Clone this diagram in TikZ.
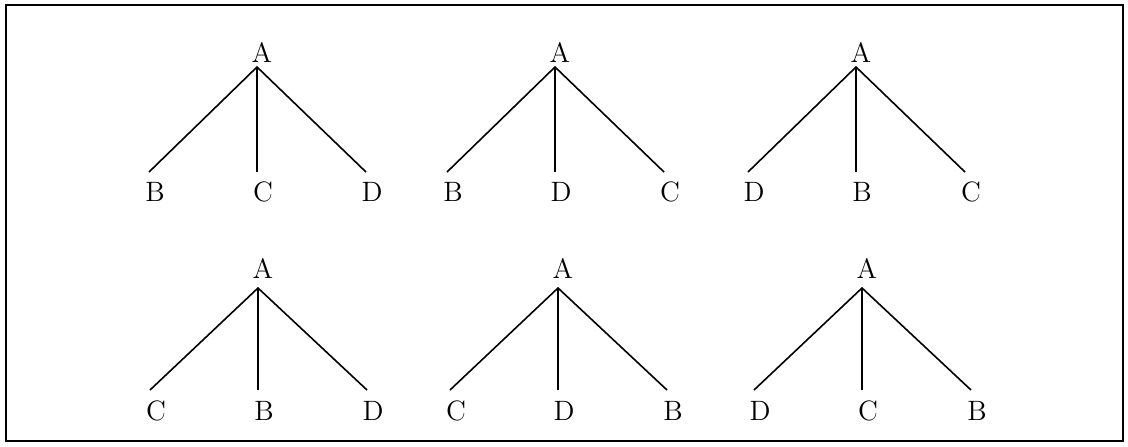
\documentclass[tikz,border=0pt]{standalone}
\begin{document}
\begin{tikzpicture}[x=0.5pt,y=-0.5pt,
  lbl/.style={inner sep=0pt,font=\fontsize{14}{16}\selectfont},
  edge/.style={line width=0.8pt},
  frame/.style={line width=1pt}]
\useasboundingbox (0,0) rectangle (1128,446);
\draw[frame] (6,5) rectangle (1123,441);
\newcommand\mytree[8]{%
  % #1 prefix, #2 apex x, #3 apex y, #4 leaf y, #5 top label y, #6 leaf label y, #7 #8 unused
  \coordinate (#1a) at (#2,#3);
  \coordinate (#1l) at (#2-108,#4);
  \coordinate (#1m) at (#2,#4);
  \coordinate (#1r) at (#2+109,#4);
  \draw[edge] (#1l) -- (#1a) -- (#1r);
  \draw[edge] (#1a) -- (#1m);
}
\mytree{t1}{257}{67}{172}{}{}{}{}
\mytree{t2}{555}{67}{172}{}{}{}{}
\mytree{t3}{856}{67}{172}{}{}{}{}
\mytree{b1}{258}{288}{390}{}{}{}{}
\mytree{b2}{558}{288}{390}{}{}{}{}
\mytree{b3}{862}{288}{390}{}{}{}{}
% labels: top row
\node[lbl] (t1A) at ([xshift=2.5pt,yshift=7.5pt]t1a) {A};
\node[lbl] (t1B) at ([xshift=3pt,yshift=-10pt]t1l) {B};
\node[lbl] (t1C) at ([xshift=3pt,yshift=-10pt]t1m) {C};
\node[lbl] (t1D) at ([xshift=3pt,yshift=-10pt]t1r) {D};
\node[lbl] (t2A) at ([xshift=2.5pt,yshift=7.5pt]t2a) {A};
\node[lbl] (t2B) at ([xshift=3pt,yshift=-10pt]t2l) {B};
\node[lbl] (t2D) at ([xshift=3pt,yshift=-10pt]t2m) {D};
\node[lbl] (t2C) at ([xshift=3pt,yshift=-10pt]t2r) {C};
\node[lbl] (t3A) at ([xshift=2.5pt,yshift=7.5pt]t3a) {A};
\node[lbl] (t3D) at ([xshift=3pt,yshift=-10pt]t3l) {D};
\node[lbl] (t3B) at ([xshift=3pt,yshift=-10pt]t3m) {B};
\node[lbl] (t3C) at ([xshift=3pt,yshift=-10pt]t3r) {C};
% labels: bottom row
\node[lbl] (b1A) at ([xshift=2.5pt,yshift=10pt]b1a) {A};
\node[lbl] (b1C) at ([xshift=3pt,yshift=-10.5pt]b1l) {C};
\node[lbl] (b1B) at ([xshift=3pt,yshift=-10.5pt]b1m) {B};
\node[lbl] (b1D) at ([xshift=3pt,yshift=-10.5pt]b1r) {D};
\node[lbl] (b2A) at ([xshift=2.5pt,yshift=10pt]b2a) {A};
\node[lbl] (b2C) at ([xshift=3pt,yshift=-10.5pt]b2l) {C};
\node[lbl] (b2D) at ([xshift=3pt,yshift=-10.5pt]b2m) {D};
\node[lbl] (b2B) at ([xshift=3pt,yshift=-10.5pt]b2r) {B};
\node[lbl] (b3A) at ([xshift=2.5pt,yshift=10pt]b3a) {A};
\node[lbl] (b3D) at ([xshift=3pt,yshift=-10.5pt]b3l) {D};
\node[lbl] (b3C) at ([xshift=3pt,yshift=-10.5pt]b3m) {C};
\node[lbl] (b3B) at ([xshift=3pt,yshift=-10.5pt]b3r) {B};
\end{tikzpicture}
\end{document}
